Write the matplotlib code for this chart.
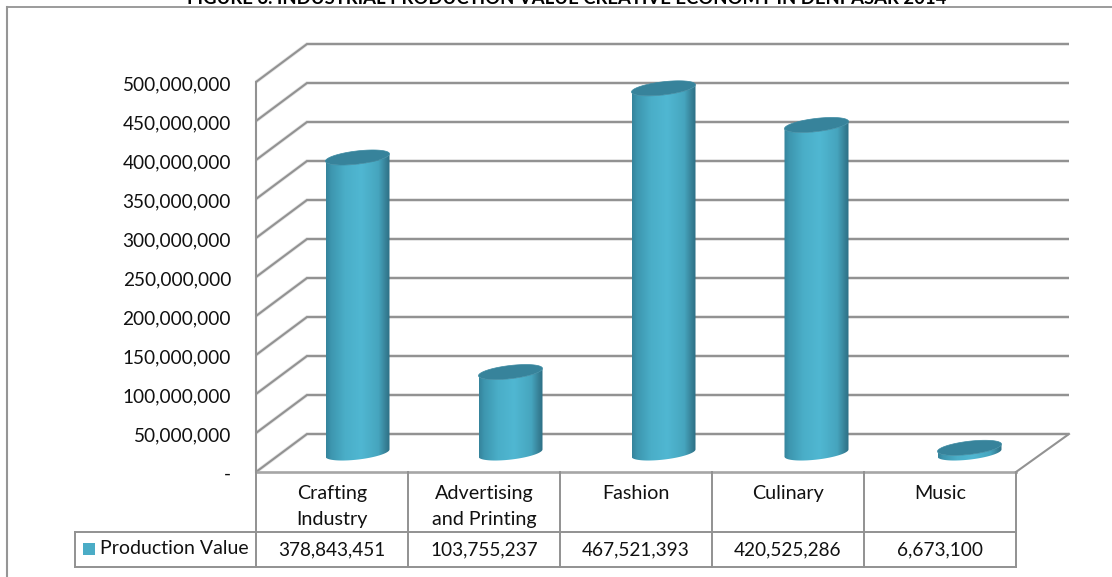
import numpy as np
import matplotlib
matplotlib.use("Agg")
import matplotlib.pyplot as plt
from matplotlib.colors import LinearSegmentedColormap
from matplotlib.patches import Polygon, Rectangle
from matplotlib.transforms import ScaledTranslation

categories = ["Crafting\nIndustry", "Advertising\nand Printing", "Fashion", "Culinary", "Music"]
production_value = [378843451, 103755237, 467521393, 420525286, 6673100]
y_ticks = [0, 50000000, 100000000, 150000000, 200000000, 250000000,
           300000000, 350000000, 400000000, 450000000, 500000000]
series_name = "Production Value"
title = "FIGURE 6. INDUSTRIAL PRODUCTION VALUE CREATIVE ECONOMY IN DENPASAR 2014"

W, H = 1112, 577
LEFT, RIGHT, FLOOR, TOP = 256, 1016, 472, 82
GRID = "#929292"
HALO = "#e4e4e4"
INK = "#111111"
NUM_SIZE = 13.7
TXT_SIZE = 14.2
plt.rcParams["font.family"] = ["Lato", "DejaVu Sans"]

fig = plt.figure(figsize=(W / 100, H / 100), dpi=100, facecolor="white")

# Overlay in pixel units for the frame, table rules and table text.
page = fig.add_axes([0, 0, 1, 1], zorder=3)
page.set_xlim(0, W)
page.set_ylim(H, 0)
page.axis("off")
page.patch.set_alpha(0)

# Value axes spanning the front plane of the 3-D box.
ax = fig.add_axes([LEFT / W, (H - FLOOR) / H, (RIGHT - LEFT) / W, (FLOOR - TOP) / H], zorder=2)
ax.set_xlim(0, len(categories))
ax.set_ylim(0, 500000000)
ax.patch.set_alpha(0)
for s in ax.spines.values():
    s.set_visible(False)
ax.set_xticks([])
ax.set_yticks(y_ticks)
ax.set_yticklabels([f"{v:,}" if v else "-" for v in y_ticks], fontsize=NUM_SIZE, color=INK,
                   va="center_baseline")
ax.tick_params(axis="y", length=0, pad=18)
nudge = ScaledTranslation(0, -1 / 100, fig.dpi_scale_trans)
for lab in ax.get_yticklabels():
    lab.set_transform(lab.get_transform() + nudge)

PX = len(categories) / (RIGHT - LEFT)      # data x per pixel
PY = 500000000 / (FLOOR - TOP)             # data y per pixel
DX, DY = 51 * PX, 38 * PY                  # oblique depth of the box
X_END = (1069 - 51 - LEFT) * PX

# Walls and floor, each rule with a pale halo beneath it
for v in y_ticks:
    xs, ys = [0, DX, X_END + DX], [v, v + DY, v + DY]
    ax.plot(xs, ys, color=HALO, lw=2.6, clip_on=False, solid_capstyle="butt",
            solid_joinstyle="miter", zorder=0.5)
    ax.plot(xs, ys, color=GRID, lw=1.5, clip_on=False, solid_capstyle="butt",
            solid_joinstyle="miter", zorder=1)
ax.plot([0, 0], [0, 500000000], color=GRID, lw=1.5, clip_on=False, zorder=1)
ax.plot([0, len(categories)], [0, 0], color="#a6a6a6", lw=1.9, clip_on=False, zorder=1)
ax.plot([len(categories), X_END + DX], [0, DY], color=GRID, lw=1.5, clip_on=False, zorder=1)

# Cylinders, standing halfway back in the box
shade = LinearSegmentedColormap.from_list(
    "cyl", [(0, "#35839b"), (0.08, "#3d96af"), (0.3, "#4aaec8"), (0.55, "#50b7d2"),
            (0.82, "#46a5be"), (0.94, "#367f95"), (1, "#2c6f85")])
gradient = np.linspace(0, 1, 256)[None, :]
a, b, k = 32 * PX, 6.6 * PY, 3.6 * PY
SPACING = 153 * PX
FIRST = (357.5 - LEFT) * PX
t_front = np.linspace(np.pi, 2 * np.pi, 80)
t_full = np.linspace(0, 2 * np.pi, 160)

for i, v in enumerate(production_value):
    cx = FIRST + SPACING * i
    base = DY / 2
    top = base + v
    side = np.vstack([
        np.column_stack([cx + a * np.cos(t_front), base + b * np.sin(t_front) + k * np.cos(t_front)]),
        np.column_stack([cx + a * np.cos(t_front[::-1]), top + b * np.sin(t_front[::-1]) + k * np.cos(t_front[::-1])]),
    ])
    clip = Polygon(side, closed=True, transform=ax.transData, facecolor="none", edgecolor="none")
    ax.add_patch(clip)
    img = ax.imshow(gradient, cmap=shade, aspect="auto", zorder=4, clip_on=True,
                    extent=(cx - a, cx + a, base - 2 * b, top + 2 * b))
    img.set_clip_path(clip)
    ax.add_patch(Polygon(
        np.column_stack([cx + a * np.cos(t_full), top + b * np.sin(t_full) + k * np.cos(t_full)]),
        closed=True, facecolor="#37839b", edgecolor="#3c8aa2", lw=0.5, zorder=5, clip_on=False))
ax.set_xlim(0, len(categories))
ax.set_ylim(0, 500000000)

# Frame around the chart; its right and lower sides run off the page
page.plot([7, W], [7, 7], color="#8a8a8a", lw=1.2)
page.plot([7, 7], [7, H], color="#969696", lw=1.5)

# Title, cropped by the upper page edge
page.text(567, 4, title, ha="center", va="baseline", fontsize=13.3,
          fontweight="bold", color="black", clip_on=False)

# Data table
col_edges = np.linspace(LEFT, RIGHT, len(categories) + 1)
ROW1, ROW2 = 532, 567
LEG = 75
for x in col_edges:
    page.plot([x, x], [FLOOR, ROW2], color=GRID, lw=1.4)
page.plot([LEG, RIGHT], [ROW1, ROW1], color=GRID, lw=1.4)
page.plot([LEG, RIGHT], [ROW2, ROW2], color=GRID, lw=1.4)
page.plot([LEG, LEG], [ROW1, ROW2], color=GRID, lw=1.4)

for i, (c, v) in enumerate(zip(categories, production_value)):
    cx = (col_edges[i] + col_edges[i + 1]) / 2
    for j, line in enumerate(c.split("\n")):
        page.text(cx, 499 + 26 * j, line, ha="center", va="baseline", fontsize=TXT_SIZE, color=INK)
    page.text(cx, 555, f"{v:,}", ha="center", va="baseline", fontsize=NUM_SIZE, color=INK)

page.add_patch(Rectangle((83, 543), 12, 12, facecolor="#4bacc6", edgecolor="none"))
page.text(100, 554, series_name, ha="left", va="baseline", fontsize=14, color=INK)

fig.savefig("out.png", dpi=100, facecolor="white")
